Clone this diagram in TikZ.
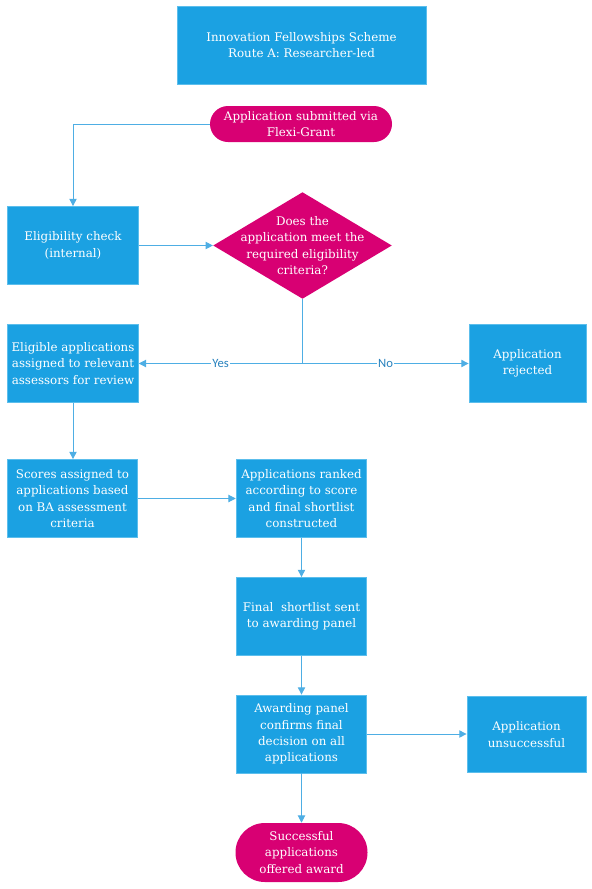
\documentclass[tikz,border=0pt]{standalone}
\usepackage{tikz}
\usepackage{fontspec}
\setmainfont{DejaVu Serif}
\newfontfamily\answerfont{Carlito}
\usetikzlibrary{shapes, arrows.meta, positioning, calc}
\definecolor{Process}{RGB}{27, 161, 226}
\definecolor{ProcessEdge}{RGB}{92, 190, 236}
\definecolor{Terminal}{RGB}{216, 0, 115}
\definecolor{Flow}{RGB}{78, 174, 228}
\definecolor{FlowLabel}{RGB}{40, 130, 190}

\begin{document}
\begin{tikzpicture}[x=0.75pt, y=-0.75pt,
    every node/.style={font=\fontsize{8.9}{12.2}\selectfont, text=white, align=center},
    process/.style={rectangle, fill=Process, draw=ProcessEdge, line width=0.6pt, minimum width=98pt, minimum height=58.5pt, inner sep=1pt},
    terminal/.style={rectangle, rounded corners=13.5pt, fill=Terminal, minimum width=136.5pt, minimum height=27pt, inner sep=1pt},
    decision/.style={diamond, fill=Terminal, minimum width=134pt, minimum height=80pt, inner sep=0pt},
    flow/.style={draw=Flow, line width=0.75pt, -{Triangle[length=5.5pt, width=5.5pt]}},
    answer/.style={fill=white, inner sep=1pt, text=FlowLabel, font=\answerfont\fontsize{9.5}{11}\selectfont}]
    \useasboundingbox (0,0) rectangle (592,889);

    % Header
    \node[process, minimum width=186.75pt] (title) at (301.5,45) {Innovation Fellowships Scheme\\Route A: Researcher-led};

    % Eligibility stage
    \node[terminal] (submit) at (301,124) {Application submitted via\\Flexi-Grant};
    \node[process] (check) at (73,245.5) {Eligibility check\\(internal)};
    \node[decision] (criteria) at (302.5,245.5) {};
    \node (criteriatext) at (criteria) {Does the\\application meet the\\required eligibility\\criteria?};
    \node[process] (assign) at (73,363.5) {Eligible applications\\assigned to relevant\\assessors for review};
    \node[process, minimum width=87.75pt] (reject) at (527.5,363.5) {Application\\rejected};
    \coordinate (split) at (criteria.south |- assign.east);

    % Assessment stage
    \node[process] (scores) at (72.5,498.5) {Scores assigned to\\applications based\\on BA assessment\\criteria};
    \node[process] (ranked) at (301.5,498.5) {Applications ranked\\according to score\\and final shortlist\\constructed};
    \node[process] (shortlist) at (301.5,616.5) {Final\ \ shortlist sent\\to awarding panel};
    \node[process] (panel) at (301.5,734) {Awarding panel\\confirms final\\decision on all\\applications};
    \node[process, minimum width=89.25pt, minimum height=57pt] (unsuccessful) at (526.5,734.5) {Application\\unsuccessful};
    \node[terminal, minimum width=99pt, minimum height=44.25pt, rounded corners=22pt] (award) at (301.5,852.5) {Successful\\applications\\offered award};

    % Connectors
    \draw[flow] (submit.west) -| (check.north);
    \draw[flow] (check) -- (criteria);
    \draw[draw=Flow, line width=0.75pt] (criteria.south) -- (split);
    \draw[flow] (split) -- node[answer] {Yes} (assign.east);
    \draw[flow] (split) -- node[answer] {No} (reject.west);
    \draw[flow] (assign) -- (assign |- scores.north);
    \draw[flow] (scores) -- (ranked);
    \draw[flow] (ranked) -- (shortlist);
    \draw[flow] (shortlist) -- (panel);
    \draw[flow] (panel.east) -- (panel.east -| unsuccessful.west);
    \draw[flow] (panel) -- (award);
\end{tikzpicture}
\end{document}
